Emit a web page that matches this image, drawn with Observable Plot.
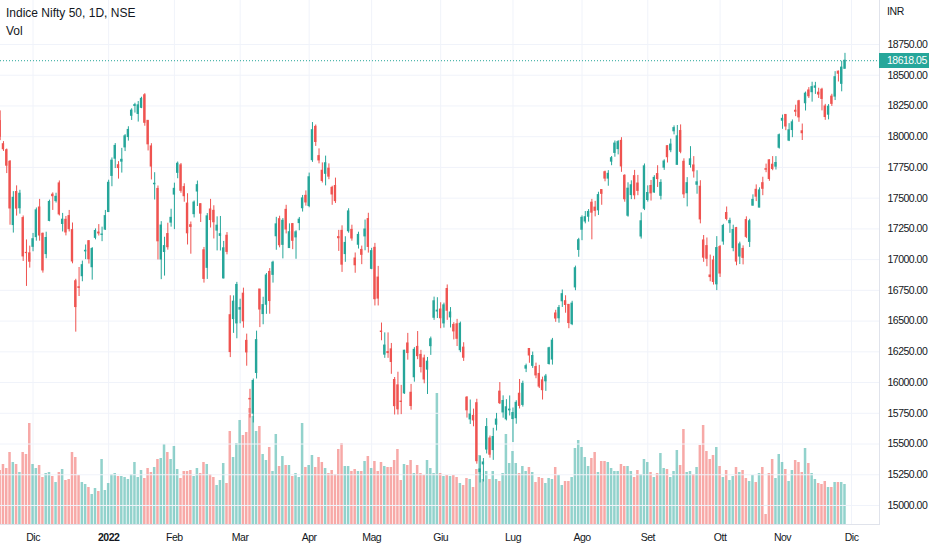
<!DOCTYPE html>
<html><head><meta charset="utf-8">
<script src="https://cdn.jsdelivr.net/npm/d3@7"></script>
<script src="https://cdn.jsdelivr.net/npm/@observablehq/plot@0.6"></script>
<style>
body{margin:0;background:#fff;}
#wrap{position:relative;width:932px;height:550px;overflow:hidden;}
.layer{position:absolute;left:0;top:0;}
#title{position:absolute;left:6px;top:4px;font:12px "Liberation Sans",Arial,sans-serif;color:#131722;line-height:18px;}
#inr{position:absolute;left:887px;top:5px;font:10.5px "Liberation Sans",Arial,sans-serif;letter-spacing:-0.4px;color:#131722;}
#tag{position:absolute;left:879px;width:50px;height:15px;background:#26a69a;color:#fff;font:10.5px "Liberation Sans",Arial,sans-serif;letter-spacing:-0.5px;line-height:15px;padding-left:8px;box-sizing:border-box;white-space:nowrap;}
svg text{letter-spacing:-0.5px;}
</style></head>
<body>
<div id="wrap">
  <div id="back" class="layer"></div>
  <div id="front" class="layer"></div>
  <div id="title">Indice Nifty 50, 1D, NSE<br>Vol</div>
  <div id="inr">INR</div>
  <div id="tag"></div>
</div>
<script>
// ---- sessions (trading days) ----
const sessions = [
 ["2021-11",[16,17,18,22,23,24,25,26,29,30]],
 ["2021-12",[1,2,3,6,7,8,9,10,13,14,15,16,17,20,21,22,23,24,27,28,29,30,31]],
 ["2022-01",[3,4,5,6,7,10,11,12,13,14,17,18,19,20,21,24,25,27,28,31]],
 ["2022-02",[1,2,3,4,7,8,9,10,11,14,15,16,17,18,21,22,23,24,25,28]],
 ["2022-03",[2,3,4,7,8,9,10,11,14,15,16,17,21,22,23,24,25,28,29,30,31]],
 ["2022-04",[1,4,5,6,7,8,11,12,13,18,19,20,21,22,25,26,27,28,29]],
 ["2022-05",[2,4,5,6,9,10,11,12,13,16,17,18,19,20,23,24,25,26,27,30,31]],
 ["2022-06",[1,2,3,6,7,8,9,10,13,14,15,16,17,20,21,22,23,24,27,28,29,30]],
 ["2022-07",[1,4,5,6,7,8,11,12,13,14,15,18,19,20,21,22,25,26,27,28,29]],
 ["2022-08",[1,2,3,4,5,8,10,11,12,16,17,18,19,22,23,24,25,26,29,30]],
 ["2022-09",[1,2,5,6,7,8,9,12,13,14,15,16,19,20,21,22,23,26,27,28,29,30]],
 ["2022-10",[3,4,6,7,10,11,12,13,14,17,18,19,20,21,24,25,27,28,31]],
 ["2022-11",[1,2,3,4,7,9,10,11,14,15,16,17,18,21,22,23,24,25,28,29]]
];
const futureSessions = ["2022-11-30","2022-12-01"];

const open = [
18127,17939,17890,17796,17281,17550,17418,17338,17055,17051,
17104,17183,17424,17210,17045,17315,17528,17476,17620,17290,
17324,17354,17240,16824,16775,16865,17067,17150,16938,17177,
17220,17201,17244,17387,17681,17821,17768,17797,17913,17997,
18170,18250,18185,18235,18337,18129,17921,17613,17575,17001,
17062,17208,17301,17529,17706,17767,17590,17456,17280,17370,
17554,17451,17076,16933,17408,17397,17236,17193,16847,17194,
16548,16516,16481,16593,16723,16339,15867,15747,16078,16757,
16557,16633,16900,16876,17190,17329,17120,17405,17094,17289,
17181,17297,17418,17519,17436,17809,18080,17842,17723,17698,
17740,17584,17599,17183,17234,17045,17231,17242,17009,17121,
17079,17189,17330,16925,17096,16854,16415,16227,16248,16270,
16021,15977,15845,15912,16318,15917,16043,16290,16225,16196,
16105,16296,16527,16578,16594,16481,16761,16530,16469,16474,
16263,16284,15877,15700,15729,15832,15272,15334,15455,15545,
15451,15657,15926,15757,15701,15774,15703,15710,15909,15818,
16113,16273,16136,16126,16070,16018,16010,16151,16187,16562,
16523,16661,16662,16632,16475,16774,17079,17243,17310,17349,
17463,17423,17401,17566,17711,17659,17797,17868,17899,17966,
17682,17357,17525,17679,17619,17188,17414,17485,17599,17546,
17696,17519,17748,17923,17890,18044,17771,18046,17796,17540,
17770,17766,17609,17593,17156,17110,16871,16993,16799,17102,
17147,17379,17296,17094,17256,17025,17087,17322,17144,17439,
17568,17423,17622,17736,17808,17772,17756,17910,18130,18177,
17968,18054,18211,18288,18044,18272,18376,18362,18398,18358,
18382,18246,18179,18326,18326,18529,18430,18552];

const high = [
18210,17960,17900,17806,17553,17600,17564,17355,17160,17110,
17213,17420,17490,17216,17223,17484,17543,17540,17640,17376,
17351,17400,17298,16840,16936,16988,17119,17155,17098,17250,
17285,17264,17400,17646,17827,17944,17797,17905,18017,18081,
18227,18272,18286,18321,18350,18129,17943,17707,17599,17309,
17182,17296,17410,17622,17794,17782,17617,17536,17306,17477,
17639,17454,17099,17375,17490,17438,17348,17351,17148,17220,
16706,16705,16815,16678,16768,16394,15945,16029,16418,16757,
16694,16887,16927,16987,17344,17353,17334,17442,17291,17294,
17235,17343,17522,17559,17704,18115,18095,17901,17787,17842,
17779,17597,17663,17238,17275,17186,17414,17280,17054,17223,
17110,17322,17377,17092,17132,16945,16484,16404,16404,16318,
16041,16084,15977,16262,16400,15985,16284,16415,16262,16223,
16204,16370,16695,16690,16649,16646,16794,16610,16487,16514,
16492,16324,15886,15858,15784,15864,15400,15382,15707,15565,
15628,15749,16000,15892,15861,15891,15793,15852,16025,16011,
16150,16275,16248,16158,16140,16044,16066,16287,16359,16588,
16627,16753,16706,16634,16661,16947,17173,17356,17391,17407,
17490,17474,17548,17567,17720,17724,17839,17965,17968,17992,
17690,17625,17641,17726,17685,17380,17778,17600,17644,17683,
17764,17650,17812,17925,17980,18088,18091,18096,17820,17667,
17919,17838,17723,17642,17196,17176,17037,17027,17187,17115,
17287,17428,17337,17280,17262,17142,17112,17348,17328,17527,
17608,17584,17670,17777,17811,17838,17838,18022,18176,18178,
18106,18136,18256,18296,18103,18363,18399,18443,18442,18394,
18394,18263,18261,18345,18529,18534,18614,18678];

const low = [
17968,17880,17700,17280,17216,17354,17370,16985,16782,16931,
17064,17150,17150,16890,17007,17308,17400,17460,17355,17225,
17193,17225,16966,16410,16700,16820,17000,16964,16833,17161,
17192,17146,17238,17383,17593,17741,17655,17704,17879,17964,
18132,18192,18119,18228,18085,17884,17648,17485,16997,16837,
16866,17077,17264,17244,17658,17540,17467,17119,17044,17339,
17432,17302,16809,16839,17257,17168,17071,17070,16843,17039,
16203,16400,16356,16478,16442,16133,15711,15671,16029,16447,
16470,16555,16556,16809,17076,17096,17006,17209,17091,17081,
17003,17235,17387,17435,17422,17791,17921,17779,17623,17600,
17650,17442,17457,17067,16896,16978,17215,17150,16889,17086,
16959,17072,17053,16918,16623,16623,16340,16197,16197,16067,
15736,15736,15739,15904,16182,15775,16003,16186,16078,15990,
15903,16221,16506,16521,16438,16443,16506,16444,16347,16293,
16243,16172,15711,15659,15640,15336,15183,15191,15419,15385,
15367,15606,15821,15710,15688,15728,15512,15661,15785,15800,
16081,16157,16115,16031,15951,15858,15928,16142,16142,16490,
16483,16611,16564,16438,16463,16747,17019,17154,17291,17305,
17161,17348,17359,17442,17633,17597,17764,17833,17852,17710,
17467,17345,17488,17487,17520,17167,17399,17468,17476,17540,
17587,17485,17726,17786,17870,18015,17771,17861,17497,17429,
17744,17663,17532,17291,16978,16942,16820,16793,16748,16855,
17117,17315,17214,17064,16950,16960,16957,17171,17099,17435,
17472,17422,17520,17707,17637,17723,17729,17899,18060,18049,
17960,17992,18163,18117,17969,18209,18311,18281,18344,18311,
18210,18133,18137,18246,18294,18445,18365,18552];

const close = [
17999,17898,17764,17416,17503,17415,17536,17026,17053,16983,
17166,17401,17196,16912,17176,17469,17516,17511,17368,17325,
17221,17248,16985,16614,16770,16955,17072,17003,17086,17233,
17213,17204,17354,17625,17805,17925,17745,17812,18003,18055,
18212,18257,18255,18308,18113,17938,17757,17617,17149,17277,
17110,17101,17340,17576,17780,17560,17516,17214,17266,17464,
17606,17374,16843,17352,17322,17304,17276,17207,17092,17063,
16248,16658,16794,16606,16498,16245,15863,16013,16345,16594,
16630,16871,16663,16975,17287,17117,17316,17245,17223,17153,
17222,17325,17498,17465,17670,18053,17957,17807,17640,17784,
17675,17530,17476,17174,16959,17136,17392,17172,16954,17201,
17039,17245,17103,17069,16678,16683,16411,16301,16240,16167,
15808,15782,15842,16259,16240,15809,16266,16215,16126,16025,
16170,16352,16661,16585,16523,16628,16584,16570,16416,16356,
16478,16202,15774,15740,15692,15360,15293,15350,15638,15413,
15557,15699,15832,15850,15799,15780,15752,15835,15810,15989,
16133,16220,16216,16058,15967,15938,16049,16279,16341,16521,
16606,16719,16631,16484,16642,16930,17158,17340,17345,17388,
17382,17397,17525,17535,17659,17698,17825,17944,17956,17758,
17491,17577,17605,17523,17559,17312,17759,17542,17539,17665,
17655,17624,17798,17833,17936,18070,18003,17877,17531,17622,
17816,17718,17629,17327,17016,17007,16858,16818,17094,16887,
17274,17331,17315,17241,16984,17124,17014,17185,17312,17486,
17512,17563,17576,17731,17656,17737,17786,18012,18145,18083,
18052,18117,18203,18157,18028,18350,18329,18403,18409,18343,
18307,18160,18244,18267,18484,18512,18562,18618.05];

// relative volume
const volume = [
54,60,56,72,62,60,52,72,70,101,
60,56,59,47,51,52,48,42,52,55,
44,45,72,67,49,42,40,37,30,36,
33,65,34,41,50,51,48,48,47,45,
50,62,47,54,46,56,52,57,65,66,
80,72,65,78,55,46,53,53,54,48,
56,51,62,60,50,47,39,44,61,41,
93,67,81,104,89,92,116,108,93,98,
70,64,77,53,90,58,68,59,59,48,
51,47,101,57,59,69,57,67,62,56,
51,54,50,75,81,58,58,53,55,53,
53,63,68,56,63,53,62,58,57,57,
64,75,44,60,59,64,51,59,51,49,
64,56,51,131,51,48,49,48,49,47,
41,39,46,45,37,55,69,45,53,45,
53,45,43,51,90,61,73,61,51,58,
53,57,52,42,47,46,41,46,45,57,
49,39,43,43,47,76,84,77,67,58,
66,72,52,63,63,62,56,53,53,60,
58,58,53,47,54,50,65,62,52,47,
51,71,56,55,47,53,74,59,95,52,
53,50,57,79,99,73,65,69,77,58,
47,54,44,48,57,52,54,46,43,49,
42,51,57,10,51,65,46,70,62,55,
43,54,64,62,52,76,61,51,45,41,
40,43,37,37,42,42,42,40];

const yTicks = [15000,15250,15500,15750,16000,16250,16500,16750,17000,17250,17500,17750,18000,18250,18500,18750];
const monthLabels = ["Dic","2022","Feb","Mar","Apr","Mag","Giu","Lug","Ago","Set","Ott","Nov","Dic"];

// ---- build table ----
const dates = [];
sessions.forEach(([m, days]) => days.forEach(d => dates.push(m + "-" + String(d).padStart(2,"0"))));
const bars = dates.map((date, i) => ({i, date, o: open[i], h: high[i], l: low[i], c: close[i], v: volume[i]}));
const allDates = dates.concat(futureSessions);
const tickIdx = [];
const monthsSeen = new Set();
allDates.forEach((d, i) => { const m = d.slice(0,7); if (!monthsSeen.has(m)) { monthsSeen.add(m); if (i > 0) tickIdx.push(i); } });
const labelOf = new Map(tickIdx.map((t, k) => [t, monthLabels[k]]));

const UP = "#26a69a", DOWN = "#ef5350";
const VUP = "rgba(38,166,154,0.5)", VDOWN = "rgba(239,83,80,0.5)";
const isUp = d => d.c >= d.o;
const W = 932, H = 550, MR = 53, MB = 26;
const xDom = [0.1, 267.5];
const font = '"Liberation Sans",Arial,sans-serif';
const last = close[close.length - 1];

const back = Plot.plot({
  width: W, height: H, marginLeft: 0, marginRight: MR, marginTop: 0, marginBottom: MB,
  x: {type: "linear", domain: xDom, axis: null},
  y: {domain: [0, 524], axis: null},
  style: {background: "transparent", overflow: "visible"},
  marks: [
    Plot.ruleX(tickIdx, {stroke: "#f0f3fa", strokeWidth: 1}),
    Plot.rectY(bars, {x1: d => d.i - 0.38, x2: d => d.i + 0.38, y1: 0, y2: "v", fill: d => isUp(d) ? VUP : VDOWN})
  ]
});
document.getElementById("back").appendChild(back);

const front = Plot.plot({
  width: W, height: H, marginLeft: 0, marginRight: MR, marginTop: 0, marginBottom: MB,
  x: {type: "linear", domain: xDom, label: null},
  y: {domain: [14845.3, 19107.9], label: null},
  style: {background: "transparent", fontFamily: font, fontSize: "10.5px", color: "#131722", overflow: "visible"},
  marks: [
    Plot.ruleY(yTicks, {stroke: "#f0f3fa", strokeWidth: 1}),
    Plot.frame({anchor: "right", stroke: "#e0e3eb"}),
    Plot.frame({anchor: "bottom", stroke: "#e0e3eb"}),
    Plot.ruleX(bars, {x: "i", y1: "l", y2: "h", stroke: d => isUp(d) ? UP : DOWN, strokeWidth: 1}),
    Plot.rect(bars, {x1: d => d.i - 0.36, x2: d => d.i + 0.36, y1: "o", y2: "c", fill: d => isUp(d) ? UP : DOWN, insetTop: -0.5, insetBottom: -0.5}),
    Plot.ruleY([last], {stroke: UP, strokeDasharray: "1 2", strokeWidth: 1}),
    Plot.axisY({anchor: "right", label: null, ticks: yTicks, tickSize: 0, tickPadding: 8, tickFormat: d => d.toFixed(2), fill: "#131722", fontSize: 10.5}),
    Plot.axisX({label: null, ticks: tickIdx.filter(t => labelOf.get(t) !== "2022"), tickSize: 0, tickPadding: 9, tickFormat: d => labelOf.get(d), fill: "#131722", fontSize: 10.5}),
    Plot.axisX({label: null, ticks: tickIdx.filter(t => labelOf.get(t) === "2022"), tickSize: 0, tickPadding: 9, tickFormat: d => labelOf.get(d), fill: "#131722", fontSize: 10.5, fontWeight: "bold"})
  ]
});
document.getElementById("front").appendChild(front);

const tag = document.getElementById("tag");
tag.textContent = last.toFixed(2);
tag.style.top = (front.scale("y").apply(last) - 7.5) + "px";
</script>
</body></html>
